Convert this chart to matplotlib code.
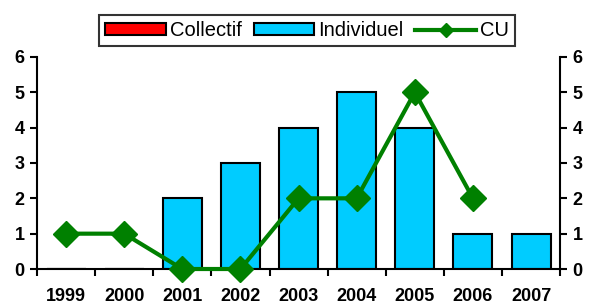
import numpy as np
import matplotlib.pyplot as plt
from matplotlib.lines import Line2D

years = ["1999", "2000", "2001", "2002", "2003", "2004", "2005", "2006", "2007"]
collectif = [0, 0, 0, 0, 0, 0, 0, 0, 0]
individuel = [0, 0, 2, 3, 4, 5, 4, 1, 1]
cu = [1, 1, 0, 0, 2, 2, 5, 2, np.nan]

plt.rcParams['font.family'] = ['Liberation Sans', 'DejaVu Sans']

fig = plt.figure(figsize=(5.89, 3.08), dpi=100)
ax = fig.add_axes([0.0628, 0.1266, 0.951 - 0.0628, 0.815 - 0.1266])

x = np.arange(len(years))
b1 = ax.bar(x, collectif, width=0.67, color="#ff0000", edgecolor="black", linewidth=1.5)
b2 = ax.bar(x, individuel, width=0.67, color="#00ccff", edgecolor="black", linewidth=1.5)
ax.plot(x, cu, color="#008000", lw=3, marker="D", ms=13, clip_on=False, zorder=5)

ax.set_xlim(-0.5, len(years) - 0.5)
ax.set_ylim(0, 6)
ax.set_yticks(range(7))
ax.set_xticks(x)
ax.set_xticklabels(years, fontsize=13, fontweight="bold")
ax.set_xticks(np.arange(-0.5, len(years)), minor=True)
ax.tick_params(axis="x", which="major", length=0, pad=14)
ax.tick_params(axis="x", which="minor", length=5, width=1.5, direction="out")
ax.tick_params(axis="y", length=5, width=1.5, labelsize=13, left=True, right=True,
               labelleft=True, labelright=True, pad=4)
for lab in ax.get_yticklabels():
    lab.set_fontweight("bold")
ax.spines["top"].set_visible(False)
for s in ["left", "right", "bottom"]:
    ax.spines[s].set_linewidth(1.5)

cu_handle = Line2D([], [], color="#008000", lw=3, marker="D", ms=7)
leg = fig.legend([b1, b2, cu_handle], ["Collectif", "Individuel", "CU"],
                 loc="center", bbox_to_anchor=(0.521, 0.9), ncol=3, fontsize=14.5,
                 frameon=True, fancybox=False, edgecolor="black", handlelength=3.0,
                 handleheight=0.55, handletextpad=0.2, columnspacing=0.6, borderpad=0.3)
leg.get_frame().set_linewidth(1.5)

fig.savefig("out.png", dpi=100)
